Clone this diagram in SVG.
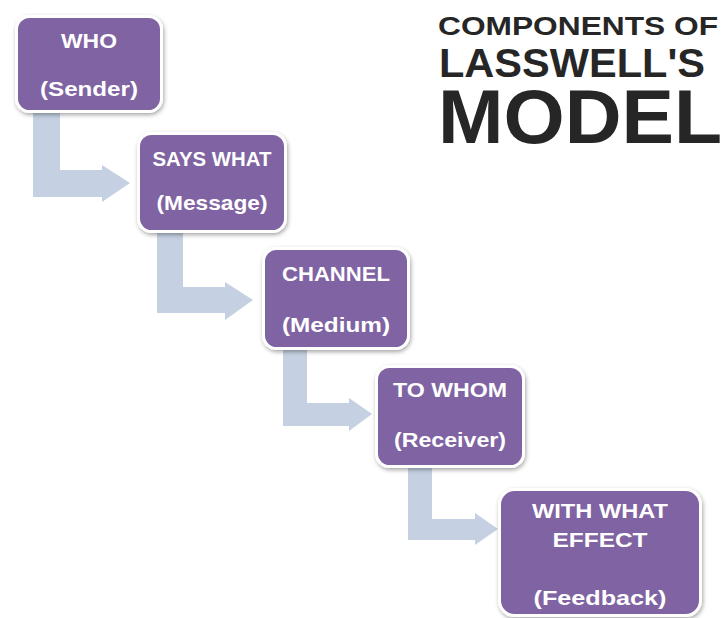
<svg xmlns="http://www.w3.org/2000/svg" width="722" height="618" viewBox="0 0 722 618">
<defs>
<style>
.box{fill:#8064a2;stroke:#ffffff;stroke-width:3;filter:url(#sh)}
.lbl{font-family:"Liberation Sans",Arial,sans-serif;font-weight:bold;font-size:21px;fill:#ffffff;text-anchor:middle}
.arr{fill:#c5d1e3}
.ttl{font-family:"Liberation Sans",Arial,sans-serif;font-weight:bold;fill:#262626}
</style>
<filter id="sh" x="-10%" y="-10%" width="130%" height="130%">
<feDropShadow dx="1" dy="2" stdDeviation="2" flood-color="#000000" flood-opacity="0.35"/>
</filter>
</defs>
<rect width="722" height="618" fill="#ffffff"/>
<g id="title">
<text class="ttl" x="438" y="35" font-size="26" textLength="280" lengthAdjust="spacingAndGlyphs">COMPONENTS OF</text>
<text class="ttl" x="439" y="77" font-size="41" textLength="266" lengthAdjust="spacingAndGlyphs">LASSWELL'S</text>
<text class="ttl" x="438" y="143" font-size="76" textLength="284" lengthAdjust="spacingAndGlyphs">MODEL</text>
</g>
<g id="connectors">
<polygon class="arr" points="33,113 60,113 60,170 102,170 102,165 130,183 102,202 102,197 33,197"/>
<polygon class="arr" points="157,233 183,233 183,287 225,287 225,282 253,300 225,320 225,313 157,313"/>
<polygon class="arr" points="283,350 307,350 307,403 349,403 349,398 372,414 349,431 349,426 283,426"/>
<polygon class="arr" points="408,468 432,468 432,519 475,519 475,513 498,529 475,545 475,540 408,540"/>
</g>
<g id="who">
<rect class="box" x="16.5" y="16.5" width="145" height="95" rx="13"/>
<text class="lbl" x="89" y="48" textLength="56" lengthAdjust="spacingAndGlyphs">WHO</text>
<text class="lbl" x="89" y="96" textLength="98" lengthAdjust="spacingAndGlyphs">(Sender)</text>
</g>
<g id="says-what">
<rect class="box" x="138.5" y="133.5" width="147" height="98" rx="13"/>
<text class="lbl" x="212" y="166" textLength="119" lengthAdjust="spacingAndGlyphs">SAYS WHAT</text>
<text class="lbl" x="212" y="210" textLength="111" lengthAdjust="spacingAndGlyphs">(Message)</text>
</g>
<g id="channel">
<rect class="box" x="263.5" y="248.5" width="145" height="100" rx="13"/>
<text class="lbl" x="336" y="281" textLength="108" lengthAdjust="spacingAndGlyphs">CHANNEL</text>
<text class="lbl" x="336" y="332" textLength="108" lengthAdjust="spacingAndGlyphs">(Medium)</text>
</g>
<g id="to-whom">
<rect class="box" x="376.5" y="366.5" width="147" height="100" rx="13"/>
<text class="lbl" x="450" y="397" textLength="114" lengthAdjust="spacingAndGlyphs">TO WHOM</text>
<text class="lbl" x="450" y="447" textLength="112" lengthAdjust="spacingAndGlyphs">(Receiver)</text>
</g>
<g id="with-what-effect">
<rect class="box" x="499.5" y="489.5" width="201" height="126" rx="15"/>
<text class="lbl" x="600" y="518" textLength="136" lengthAdjust="spacingAndGlyphs">WITH WHAT</text>
<text class="lbl" x="600" y="547" textLength="95" lengthAdjust="spacingAndGlyphs">EFFECT</text>
<text class="lbl" x="600" y="605" textLength="133" lengthAdjust="spacingAndGlyphs">(Feedback)</text>
</g>
</svg>
